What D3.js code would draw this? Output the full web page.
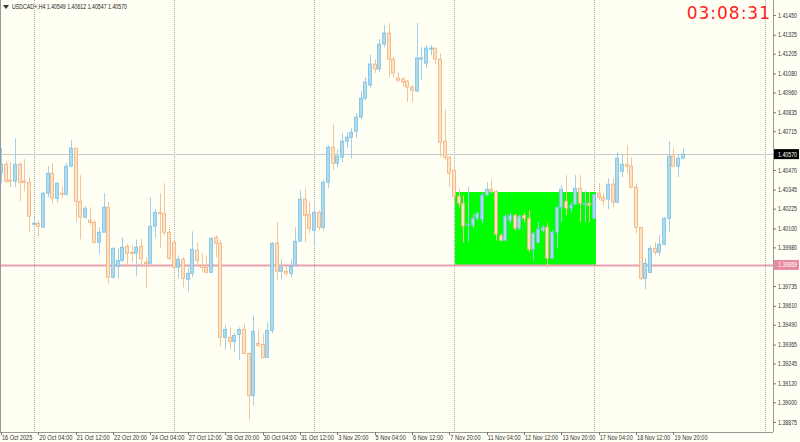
<!DOCTYPE html>
<html><head><meta charset="utf-8">
<script src="https://cdn.jsdelivr.net/npm/d3@7"></script>
<style>body{margin:0;background:#fffff3;}svg{display:block;font-family:"Liberation Sans",sans-serif;}</style>
</head><body><svg id="c" width="800" height="442"></svg>
<script>
// OHLC in points (1e-5)
const opens=[140449,140506,140405,140399,140506,140399,140392,140126,140133,140107,140323,140449,140291,140323,140316,140494,140608,140272,140171,140152,140139,140012,140076,140234,139791,139860,139898,139987,139949,139943,139987,139886,139879,140114,140202,140196,140076,140012,139854,139905,139778,139816,139962,139867,139854,139822,140044,140006,139411,139411,139385,139430,139461,139309,139043,139373,139366,139284,139455,140006,139829,139829,139816,139867,140019,140285,140190,140088,140202,140107,140392,140614,140513,140551,140652,140677,140715,140804,140924,141007,141140,141108,141266,141336,141171,141051,141045,141032,140994,140969,141171,141146,141235,141241,141171,140652,140551,140468,140304,140259,140120,140120,140164,140158,140310,140348,140335,140057,140025,140152,140183,140101,140183,140164,139968,140012,140088,140107,139911,140076,140234,140272,140228,140253,140354,140259,140259,140164,140323,140297,140285,140380,140266,140462,140506,140494,140361,140107,139784,139822,139974,139949,140000,140164,140557,140494,140544];
const highs=[140608,140525,140519,140671,140519,140538,140424,140177,140152,140329,140494,140513,140392,140367,140513,140658,140608,140437,140240,140234,140152,140107,140323,140266,139981,139974,140044,140000,139993,140031,140031,139917,140297,140221,140323,140386,140107,140025,139930,139917,139854,140082,140012,139943,139930,140044,140057,140025,139487,139474,139442,139474,139499,139316,139550,139461,139436,139506,140012,140139,139905,139860,139905,140107,140342,140354,140266,140234,140215,140405,140627,140760,140601,140703,140709,140734,140829,140969,141057,141197,141171,141298,141387,141399,141184,141089,141057,141038,141007,141399,141247,141260,141260,141241,141209,140855,140551,140487,140354,140310,140361,140190,140202,140323,140392,140411,140342,140069,140190,140202,140190,140190,140202,140215,140076,140139,140120,140133,140088,140234,140373,140437,140266,140437,140437,140342,140329,140316,140386,140323,140418,140418,140582,140570,140627,140551,140386,140107,139911,139993,140012,140057,140171,140652,140608,140563,140608];
const lows=[140386,140386,140361,140361,140272,140335,140076,140120,140050,140107,140297,140259,140266,140291,140310,140487,140139,140031,140164,140120,140006,139936,140076,139753,139784,139784,139886,139867,139886,139797,139854,139721,139873,140038,139974,140057,139898,139854,139784,139727,139702,139791,139860,139822,139816,139822,139917,139354,139335,139335,139316,139265,139309,138885,138980,139347,139278,139284,139436,139778,139778,139797,139791,139860,140019,140012,140069,139981,140088,140088,140354,140468,140487,140519,140608,140544,140671,140791,140912,140988,141083,141089,141247,141057,141057,141026,140994,140899,140899,140962,141038,141114,141197,141140,140551,140532,140361,140266,140234,140012,140012,140101,140152,140133,140304,140323,140025,140019,140019,140133,140088,140088,140139,139949,139898,140006,140076,139848,139911,139974,140139,140183,140202,140247,140139,140139,140139,140164,140278,140247,140221,140234,140259,140424,140449,140354,140069,139772,139715,139816,139930,139924,139993,140076,140494,140424,140544];
const closes=[140506,140399,140399,140506,140392,140392,140177,140133,140114,140323,140449,140291,140386,140316,140494,140608,140272,140171,140228,140139,140012,140076,140234,139791,139974,139898,139981,139943,139943,139981,139911,139879,140114,140202,140196,140076,139911,139854,139905,139784,139816,139968,139898,139854,139822,140038,140006,139411,139461,139385,139423,139461,139309,139043,139449,139360,139284,139455,140006,139829,139854,139816,139860,140019,140285,140183,140101,140202,140107,140392,140614,140513,140557,140652,140677,140709,140804,140924,141026,141140,141108,141266,141336,141171,141083,141038,141026,140994,140975,141178,141178,141241,141241,141171,140646,140551,140449,140304,140259,140114,140126,140164,140196,140310,140348,140335,140063,140025,140177,140183,140101,140177,140164,139968,140069,140095,140107,139911,140076,140234,140348,140228,140247,140354,140259,140259,140247,140316,140297,140278,140380,140266,140544,140506,140494,140361,140107,139784,139879,139974,139949,140000,140164,140557,140494,140544,140570];
const priceTicks=[1.41450,1.41325,1.41205,1.41080,1.40960,1.40835,1.40715,1.40470,1.40345,1.40225,1.40100,1.39980,1.39735,1.39610,1.39490,1.39365,1.39245,1.39120,1.39000,1.38875];
const timeLabels=["16 Oct 2025","20 Oct 04:00","21 Oct 12:00","22 Oct 20:00","24 Oct 04:00","27 Oct 12:00","28 Oct 20:00","30 Oct 04:00","31 Oct 12:00","3 Nov 20:00","5 Nov 04:00","6 Nov 12:00","7 Nov 20:00","11 Nov 04:00","12 Nov 12:00","13 Nov 20:00","17 Nov 04:00","18 Nov 12:00","19 Nov 20:00"];
const gridBars=[7,37,67,97,127];
const lastPrice=1.40570, levelPrice=1.39869;
const zone={from:97.2,to:127.4,top:1.40330,bottom:1.39869};

const n=opens.length;
const svg=d3.select("#c");
const W=773,H=432;
const x=d3.scaleLinear().domain([0,146]).range([1,1+146*4.67]);
const y=d3.scaleLinear().domain([1.38812,1.41545]).range([H,0]);
const p=v=>v/1e5;
const FS=6.5;
svg.append("rect").attr("width",800).attr("height",442).attr("fill","#fffff3");
svg.selectAll(".g").data(gridBars).join("line").attr("x1",d=>Math.round(x(d))+0.5).attr("x2",d=>Math.round(x(d))+0.5)
 .attr("y1",0).attr("y2",H).attr("stroke","#aaa").attr("stroke-dasharray","1,1");
svg.append("line").attr("x1",765.5).attr("x2",765.5).attr("y1",0).attr("y2",H).attr("stroke","#aaa").attr("stroke-dasharray","1,1");
svg.append("rect").attr("x",x(zone.from)).attr("width",x(zone.to)-x(zone.from)).attr("y",y(zone.top)).attr("height",y(zone.bottom)-y(zone.top)).attr("fill","#00ff00");
svg.append("line").attr("x1",0).attr("x2",W).attr("y1",Math.round(y(lastPrice))+0.5).attr("y2",Math.round(y(lastPrice))+0.5).attr("stroke","#c8c8c8");
svg.append("line").attr("x1",0).attr("x2",W).attr("y1",Math.round(y(levelPrice))+0.5).attr("y2",Math.round(y(levelPrice))+0.5).attr("stroke","#e8a0b0").attr("stroke-width",2);
const idx=d3.range(n);
const up=i=>closes[i]>=opens[i];
svg.selectAll(".w").data(idx).join("line").attr("x1",i=>Math.round(x(i))+0.5).attr("x2",i=>Math.round(x(i))+0.5)
 .attr("y1",i=>y(p(highs[i]))).attr("y2",i=>y(p(lows[i]))).attr("stroke",i=>up(i)?"#9fd0f0":"#f5c49a");
svg.selectAll(".b").data(idx).join("rect").attr("x",i=>Math.round(x(i))-1.5).attr("width",3)
 .attr("y",i=>y(p(Math.max(opens[i],closes[i])))).attr("height",i=>Math.max(1,Math.abs(y(p(opens[i]))-y(p(closes[i])))))
 .attr("fill",i=>up(i)?"#acdcea":"#fde2c6").attr("stroke",i=>up(i)?"#7cc0ea":"#f2b07c").attr("stroke-width",0.8);
svg.append("line").attr("x1",W+0.5).attr("x2",W+0.5).attr("y1",0).attr("y2",H).attr("stroke","#999");
svg.append("line").attr("x1",0).attr("x2",W).attr("y1",H+0.5).attr("y2",H+0.5).attr("stroke","#999");
svg.append("line").attr("x1",0.5).attr("x2",0.5).attr("y1",0).attr("y2",H).attr("stroke","#999");
const ya=d3.axisRight(y).tickValues(priceTicks).tickSize(3).tickFormat(d3.format(".5f"));
const ga=svg.append("g").attr("transform",`translate(${W},0)`).call(ya);
ga.select(".domain").remove();
ga.selectAll("text").attr("font-size",FS).attr("font-family","inherit").attr("fill","#333").attr("x",5)
  .attr("textLength",19).attr("lengthAdjust","spacingAndGlyphs");
ga.selectAll("line").attr("stroke","#777");
function tag(v,bg,fg){const yy=y(v);
 svg.append("rect").attr("x",W+1).attr("y",yy-5).attr("width",25).attr("height",10).attr("fill",bg);
 svg.append("text").attr("x",W+5).attr("y",yy+2.5).attr("font-size",FS).attr("fill",fg)
   .attr("textLength",19).attr("lengthAdjust","spacingAndGlyphs").text(d3.format(".5f")(v));}
tag(lastPrice,"#000","#fff");
tag(levelPrice,"#e88aa0","#fff");
const labelBars=timeLabels.map((_,i)=>i*8);
const tg=svg.append("g");
tg.selectAll("line").data(labelBars).join("line").attr("x1",d=>Math.round(x(d))+0.5).attr("x2",d=>Math.round(x(d))+0.5).attr("y1",H).attr("y2",H+3).attr("stroke","#777");
tg.selectAll("text").data(timeLabels).join("text").attr("x",(d,i)=>x(labelBars[i])+1).attr("y",440).attr("font-size",FS).attr("fill","#333")
  .attr("textLength",d=>d.length*2.75).attr("lengthAdjust","spacingAndGlyphs").text(d=>d);
svg.append("path").attr("d","M3,5 L9,5 L6,9 Z").attr("fill","#333");
svg.append("text").attr("x",12).attr("y",9).attr("font-size",7).attr("fill","#222").attr("textLength",115).attr("lengthAdjust","spacingAndGlyphs").text("USDCAD+,H4  1.40549 1.40612 1.40547 1.40570");
svg.append("text").attr("x",771).attr("y",19).attr("text-anchor","end").attr("font-size",17).attr("font-family","DejaVu Sans, sans-serif").attr("fill","#ff2020").attr("letter-spacing",1).text("03:08:31");
</script></body></html>
